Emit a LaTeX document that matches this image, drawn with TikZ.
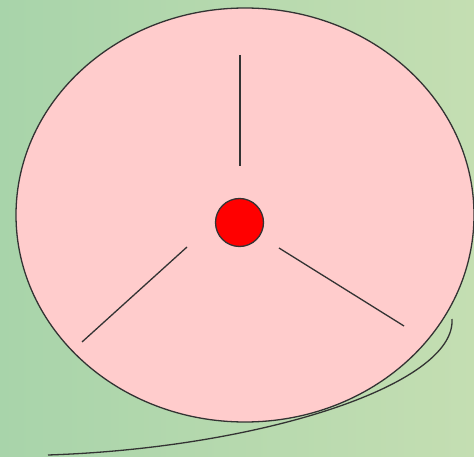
\documentclass[tikz,border=0pt]{standalone}
\begin{document}
\begin{tikzpicture}[x=1pt,y=-1pt,
  outline/.style={draw=black!80,line width=1.3pt},
  spoke/.style={draw=black!80,line width=1.3pt}]
\definecolor{bgA}{RGB}{168,212,170}
\definecolor{bgB}{RGB}{196,222,178}
\definecolor{pinkfill}{RGB}{255,204,204}
\shade[left color=bgA,right color=bgB] (0,0) rectangle (474,457);
\useasboundingbox (0,0) rectangle (474,457);
\draw[outline,fill=pinkfill] (245,215) ellipse [x radius=229,y radius=207];
\node[circle,outline,fill=red,minimum size=48pt,inner sep=0pt] (hub) at (239.5,222.5) {};
\coordinate (t1) at (240,55); \coordinate (t2) at (240,166);
\coordinate (l1) at (187,247); \coordinate (l2) at (82,342);
\coordinate (r1) at (279,248); \coordinate (r2) at (404,326);
\draw[spoke] (t1) -- (t2);
\draw[spoke] (l1) -- (l2);
\draw[spoke] (r1) -- (r2);
\coordinate (c0) at (48,455); \coordinate (c1) at (452,319);
\draw[outline] (c0) .. controls (260,448) and (456,385) .. (c1);
\end{tikzpicture}
\end{document}
